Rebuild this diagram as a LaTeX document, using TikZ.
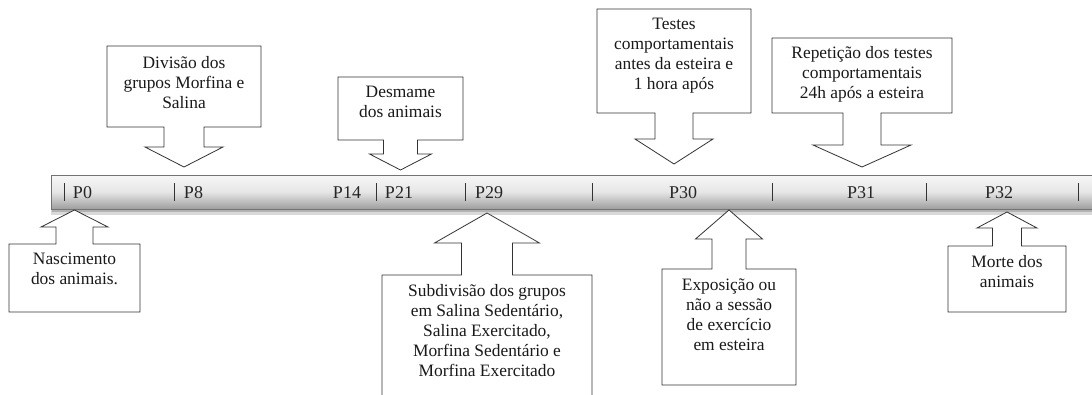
\documentclass[tikz,border=0pt]{standalone}
\usepackage{fontspec}
\setmainfont{Liberation Serif}
\begin{document}
\begin{tikzpicture}[x=1pt,y=-1pt,
  callout/.style={draw=black!80,line width=0.8pt,fill=white,line join=miter},
  boxtext/.style={anchor=north,inner sep=0pt,align=center,text=black!90,font=\fontsize{17.4}{20}\selectfont},
  daylabel/.style={anchor=base,inner sep=0pt,text=black!85,font=\fontsize{18}{20}\selectfont},
  tickline/.style={draw=black!80,line width=0.9pt}]
\clip (0,0) rectangle (1092,394);
\fill[white] (0,0) rectangle (1092,394);
% callout macro: L R far near cx stemhalf headbase headhalf tip
\newcommand\mycallout[9]{%
  \draw[callout] (#1,#3) -- (#2,#3) -- (#2,#4) -- ({#5+#6},#4) -- ({#5+#6},#7)
    -- ({#5+#8},#7) -- (#5,#9) -- ({#5-#8},#7) -- ({#5-#6},#7) -- ({#5-#6},#4)
    -- (#1,#4) -- cycle;}
% timeline bar
\fill[black!30] (53,179) rectangle (1100,213);
\fill[black!15] (51,177) rectangle (1100,215);
\fill[black!30] (52,178) rectangle (1100,212);
\shade[top color=black!3,bottom color=black!38,middle color=black!10,draw=black!55,line width=0.8pt] (51,175) rectangle (1100,209);
\node[inner sep=0pt,minimum width=1049pt,minimum height=34pt,anchor=north west] (bar) at (51,175) {};
% ticks
\foreach \tx/\tn in {64/a,174/b,376/c,465/d,592/e,772/f,926/g,1078/h}
  \draw[tickline] (\tx,183) coordinate (t\tn top) -- (\tx,201) coordinate (t\tn bot);
% labels
\foreach \lx/\lt/\ln in {82.5/P0/p0,193.5/P8/p8,347/P14/p14,399/P21/p21,489/P29/p29,683/P30/p30,861/P31/p31,999/P32/p32}
  \node[daylabel] (\ln) at (\lx,198.5) {\lt};
% top callouts
\mycallout{107}{261}{46}{127}{184}{20}{147}{39}{167}
\node[boxtext] (divisao) at (184,56) {Divisão dos\\grupos Morfina e\\Salina};
\mycallout{338}{463}{77}{140}{400.5}{17}{154}{31}{170}
\node[boxtext] (desmame) at (400.5,86) {Desmame\\dos animais};
\mycallout{597}{751}{9}{113}{674}{19}{139}{39}{164}
\node[boxtext] (testes) at (674,18) {Testes\\comportamentais\\antes da esteira e\\1 hora após};
\mycallout{772}{952}{38}{113}{862}{19}{145}{49}{167}
\node[boxtext] (repeticao) at (862,46) {Repetição dos testes\\comportamentais\\24h após a esteira};
% bottom callouts
\mycallout{9}{140}{312}{244}{74.5}{18.5}{227}{33.5}{210}
\node[boxtext] (nascimento) at (74.5,253) {Nascimento\\dos animais.};
\mycallout{382}{592}{420}{275}{487}{25.5}{243}{52.5}{213}
\node[boxtext] (subdivisao) at (487,284) {Subdivisão dos grupos\\em Salina Sedentário,\\Salina Exercitado,\\Morfina Sedentário e\\Morfina Exercitado};
\mycallout{662}{796}{385}{269}{729}{17}{239}{33.5}{210}
\node[boxtext] (exposicao) at (729,279) {Exposição ou\\não a sessão\\de exercício\\em esteira};
\mycallout{948}{1066}{312}{246}{1007}{14.5}{228}{30}{212}
\node[boxtext] (morte) at (1007,255) {Morte dos\\animais};
\end{tikzpicture}
\end{document}
